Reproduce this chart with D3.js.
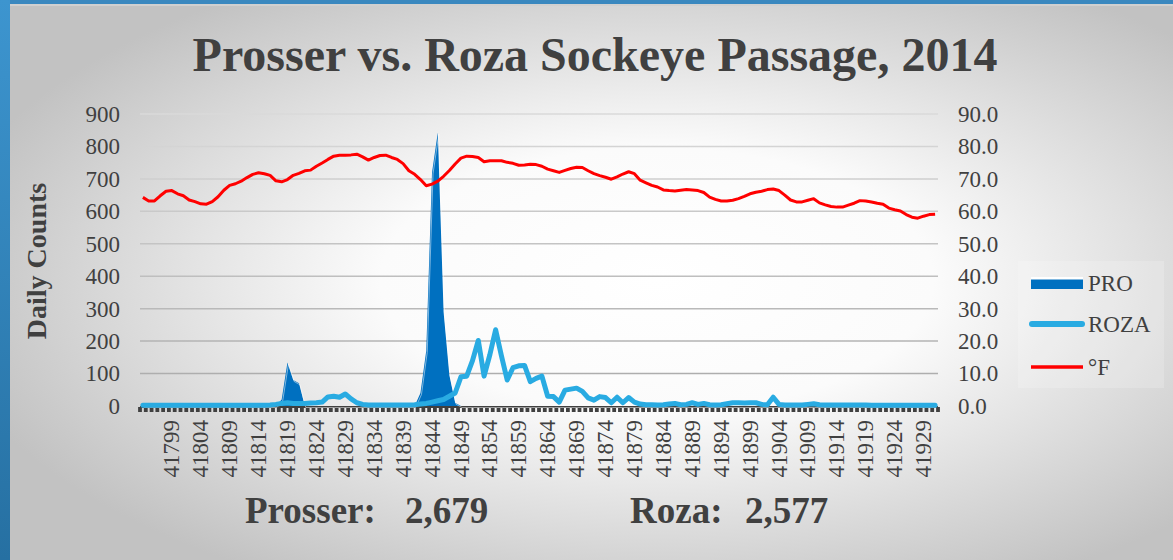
<!DOCTYPE html>
<html>
<head>
<meta charset="utf-8">
<script src="https://cdn.jsdelivr.net/npm/d3@7"></script>
<style>
  body { margin: 0; background: #fff; }
  svg text { font-family: "Liberation Serif", "Times New Roman", serif; fill: #404040; }
</style>
</head>
<body>
<div id="chart"></div>
<script>
// day numbers (Excel serials) on the category axis
var days = d3.range(41794, 41932);
var labelDays = [41799,41804,41809,41814,41819,41824,41829,41834,41839,41844,41849,41854,41859,41864,
  41869,41874,41879,41884,41889,41894,41899,41904,41909,41914,41919,41924,41929];

// Prosser daily counts (area)
var pro = [
  0,0,0,0,0,0,0,0,0,0,
  0,0,0,0,0,0,0,0,0,0,
  0,0,0,0,20,134,80,70,0,0,
  0,0,0,0,0,0,0,0,0,0,
  0,0,0,0,0,0,0,0,40,170,
  720,843,290,95,10,0,0,0,0,0,
  0,0,0,0,0,0,0,0,0,0,
  0,0,0,0,0,0,0,0,0,0,
  0,0,0,0,0,0,0,0,0,0,
  0,0,0,0,0,0,0,0,0,0,
  0,0,0,0,0,0,0,0,0,0,
  0,0,0,0,0,0,0,0,0,0,
  0,0,0,0,0,0,0,0,0,0,
  0,0,0,0,0,0,0,0
];

// Roza daily counts (line)
var roza = [
  2,2,2,2,2,2,2,2,2,2,
  2,2,2,2,2,2,2,2,2,2,
  2,2,3,5,8,10,8,8,8,9,
  10,12,28,30,27,37,22,10,5,3,
  3,3,3,3,3,3,3,4,6,8,
  12,16,20,30,40,90,92,140,202,92,
  158,235,155,80,118,124,125,75,85,92,
  30,29,12,49,52,55,45,25,18,29,
  26,10,27,10,26,12,6,4,4,3,
  4,6,8,4,5,10,5,8,4,3,
  4,7,10,10,9,10,10,5,4,27,
  5,3,3,3,3,5,7,4,3,3,
  3,3,3,3,3,3,2,2,2,2,
  2,2,2,2,2,2,2,2
];

// water temperature, deg F (right axis)
var tempF = [
  64.3,63.2,63.2,64.8,66.2,66.4,65.4,64.8,63.5,63.0,
  62.3,62.2,63.0,64.5,66.5,68.0,68.5,69.3,70.4,71.4,
  71.9,71.6,71.1,69.4,69.1,69.8,71.1,71.7,72.5,72.7,
  73.9,74.9,76.0,77.0,77.3,77.3,77.4,77.6,76.8,75.8,
  76.6,77.2,77.3,76.6,76.0,74.7,72.5,71.4,69.8,67.9,
  68.4,69.3,70.8,72.6,74.6,76.4,77.0,76.9,76.6,75.3,
  75.6,75.6,75.6,75.1,74.8,74.2,74.3,74.5,74.4,73.9,
  73.0,72.5,72.0,72.6,73.2,73.6,73.5,72.5,71.6,71.0,
  70.5,69.9,70.6,71.5,72.2,71.6,69.6,68.8,68.0,67.5,
  66.6,66.4,66.3,66.5,66.7,66.6,66.4,65.8,64.4,63.7,
  63.2,63.2,63.4,63.9,64.6,65.4,65.9,66.2,66.7,66.9,
  66.4,65.0,63.5,62.9,62.9,63.4,63.9,62.6,62.0,61.5,
  61.3,61.3,61.9,62.5,63.3,63.2,62.9,62.5,62.2,61.0,
  60.5,60.1,59.0,58.2,57.9,58.5,59.0,59.1
];

var leftTicks = [0,100,200,300,400,500,600,700,800,900];
var rightTicks = [0,10,20,30,40,50,60,70,80,90];
var totals = [["Prosser:", "2,679"], ["Roza:", "2,577"]];
var legendItems = ["PRO", "ROZA", "°F"];

var W = 1173, H = 560;
var svg = d3.select("#chart").append("svg")
  .attr("width", W).attr("height", H);

var defs = svg.append("defs");
var bg = defs.append("radialGradient").attr("id", "bg")
  .attr("cx", "0.56").attr("cy", "0.5").attr("r", "0.62");
bg.append("stop").attr("offset", "0").attr("stop-color", "#ffffff");
bg.append("stop").attr("offset", "0.38").attr("stop-color", "#fbfbfb");
bg.append("stop").attr("offset", "1").attr("stop-color", "#c2c2c2");

var blue = defs.append("linearGradient").attr("id", "blueBar")
  .attr("x1", 0).attr("y1", 0).attr("x2", 0).attr("y2", 1);
blue.append("stop").attr("offset", "0").attr("stop-color", "#3d95cf");
blue.append("stop").attr("offset", "1").attr("stop-color", "#2670a2");

var gridGrad = defs.append("linearGradient").attr("id", "gridGrad")
  .attr("gradientUnits", "userSpaceOnUse")
  .attr("x1", 0).attr("y1", 110).attr("x2", 0).attr("y2", 410);
gridGrad.append("stop").attr("offset", "0").attr("stop-color", "#dadada");
gridGrad.append("stop").attr("offset", "1").attr("stop-color", "#a8a8a8");

svg.append("rect").attr("width", W).attr("height", H).attr("fill", "url(#bg)");
svg.append("rect").attr("x", 10).attr("y", 4).attr("width", W - 10).attr("height", 2).attr("fill", "#d0d0d0");
svg.append("rect").attr("x", 0).attr("y", 0).attr("width", W).attr("height", 4).attr("fill", "#3a88bf");
svg.append("rect").attr("x", 0).attr("y", 0).attr("width", 10).attr("height", H).attr("fill", "url(#blueBar)");

// scales
var x = d3.scaleBand().domain(days).range([140, 938]);
var yL = d3.scaleLinear().domain([0, 900]).range([406, 114]);
var yR = d3.scaleLinear().domain([0, 90]).range([406, 114]);
var cx = function(d) { return x(d) + x.bandwidth() / 2; };

// gridlines
svg.append("g").selectAll("line").data(leftTicks.slice(1)).join("line")
  .attr("x1", 140).attr("x2", 938)
  .attr("y1", function(d) { return yL(d); }).attr("y2", function(d) { return yL(d); })
  .attr("stroke", "url(#gridGrad)").attr("stroke-width", 1.5);

// left axis
var gl = svg.append("g").attr("transform", "translate(140,0)")
  .call(d3.axisLeft(yL).tickValues(leftTicks).tickSize(0).tickPadding(20));
gl.select(".domain").remove();
gl.selectAll("text").style("font-size", "23px").attr("fill", "#404040");

// right axis
var gr = svg.append("g").attr("transform", "translate(938,0)")
  .call(d3.axisRight(yR).tickValues(rightTicks).tickSize(0).tickPadding(20).tickFormat(d3.format(".1f")));
gr.select(".domain").remove();
gr.selectAll("text").style("font-size", "23px").attr("fill", "#404040");

// bottom axis: thick line + a tick at every day boundary
var bx = svg.append("g");
bx.append("line").attr("x1", 140).attr("x2", 938).attr("y1", 407).attr("y2", 407)
  .attr("stroke", "#404040").attr("stroke-width", 2);
bx.selectAll("line.tk").data(days.concat([null])).join("line").attr("class", "tk")
  .attr("x1", function(d, i) { return 140 + i * x.bandwidth(); })
  .attr("x2", function(d, i) { return 140 + i * x.bandwidth(); })
  .attr("y1", 407).attr("y2", 412)
  .attr("stroke", "#404040").attr("stroke-width", 3.8);

var gb = svg.append("g").attr("transform", "translate(0,406)")
  .call(d3.axisBottom(x).tickValues(labelDays).tickSize(0).tickPadding(0));
gb.select(".domain").remove();
gb.selectAll("text")
  .style("font-size", "23px").attr("fill", "#404040")
  .attr("text-anchor", "end")
  .attr("transform", "rotate(-90)")
  .attr("x", -14).attr("y", 0).attr("dy", "0.33em");

// PRO area
var area = d3.area()
  .x(function(d, i) { return cx(days[i]); })
  .y0(yL(0)).y1(function(d) { return yL(d); });
svg.append("path").datum(pro).attr("d", area).attr("fill", "#0070c0");
svg.append("path").datum(pro)
  .attr("d", d3.line().x(function(d, i) { return cx(days[i]) + 1; }).y(function(d) { return yL(d) + 1.5; }))
  .attr("fill", "none").attr("stroke", "#ffffff").attr("stroke-opacity", 0.55).attr("stroke-width", 0.9);

// ROZA line
svg.append("path").datum(roza)
  .attr("d", d3.line().x(function(d, i) { return cx(days[i]); }).y(function(d) { return yL(d); }))
  .attr("fill", "none").attr("stroke", "#29abe2").attr("stroke-width", 5)
  .attr("stroke-linejoin", "round").attr("stroke-linecap", "round");

// temperature line
svg.append("path").datum(tempF)
  .attr("d", d3.line().x(function(d, i) { return cx(days[i]); }).y(function(d) { return yR(d); }))
  .attr("fill", "none").attr("stroke", "#ff0000").attr("stroke-width", 3)
  .attr("stroke-linejoin", "round");

// title
svg.append("text").attr("x", 595).attr("y", 71).attr("text-anchor", "middle")
  .style("font-size", "48px").style("font-weight", "bold")
  .text("Prosser vs. Roza Sockeye Passage, 2014");

// y axis title
svg.append("text").attr("transform", "translate(46,261) rotate(-90)")
  .attr("text-anchor", "middle")
  .style("font-size", "28px").style("font-weight", "bold")
  .text("Daily Counts");

// totals under the chart
var tx = [[245, 405], [630, 745]];
totals.forEach(function(t, i) {
  svg.append("text").attr("x", tx[i][0]).attr("y", 523)
    .style("font-size", "37px").style("font-weight", "bold").text(t[0]);
  svg.append("text").attr("x", tx[i][1]).attr("y", 523)
    .style("font-size", "37px").style("font-weight", "bold").text(t[1]);
});

// legend
var lg = svg.append("g");
lg.append("rect").attr("x", 1018).attr("y", 261).attr("width", 146).attr("height", 127)
  .attr("fill", "#ffffff").attr("fill-opacity", 0.18);
var ly = [283, 324, 367];
lg.append("rect").attr("x", 1031).attr("y", 277).attr("width", 52).attr("height", 12).attr("fill", "#0070c0");
lg.append("rect").attr("x", 1031).attr("y", 277).attr("width", 52).attr("height", 2.5).attr("fill", "#ffffff");
lg.append("line").attr("x1", 1032).attr("x2", 1082).attr("y1", ly[1]).attr("y2", ly[1])
  .attr("stroke", "#29abe2").attr("stroke-width", 6).attr("stroke-linecap", "round");
lg.append("line").attr("x1", 1031).attr("x2", 1083).attr("y1", ly[2]).attr("y2", ly[2])
  .attr("stroke", "#ff0000").attr("stroke-width", 3.5);
lg.selectAll("text").data(legendItems).join("text")
  .attr("x", 1088).attr("y", function(d, i) { return ly[i]; }).attr("dy", "0.35em")
  .style("font-size", "23px").text(function(d) { return d; });
</script>
</body>
</html>
